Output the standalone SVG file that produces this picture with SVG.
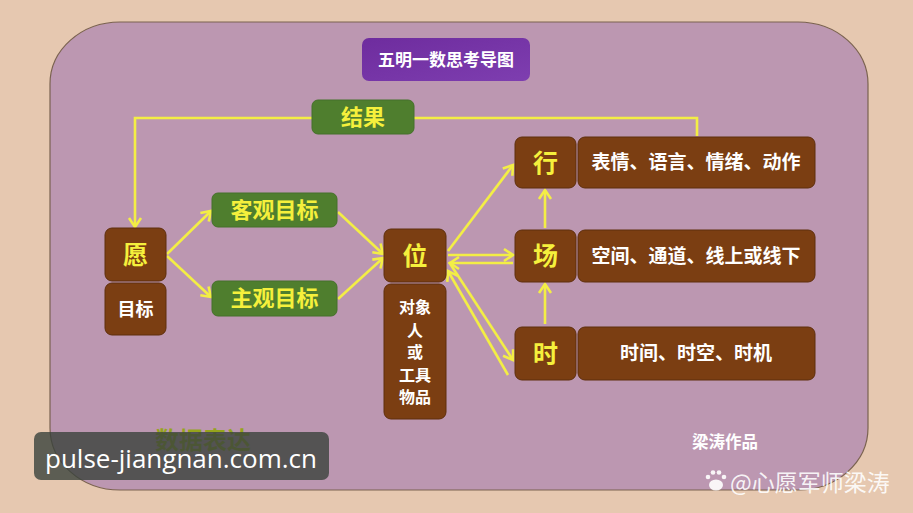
<svg xmlns="http://www.w3.org/2000/svg" width="913" height="513" viewBox="0 0 913 513">
<defs>
<linearGradient id="pg" x1="0" y1="0" x2="1" y2="1"><stop offset="0" stop-color="#6E2C9E"/><stop offset="1" stop-color="#7E3EB0"/></linearGradient>
<marker id="ah" markerUnits="userSpaceOnUse" markerWidth="16" markerHeight="16" refX="11" refY="7" orient="auto" viewBox="0 0 16 14">
<path d="M2,1 L11,7 L2,13" fill="none" stroke="#F3EE45" stroke-width="2.6" stroke-linejoin="miter"/>
</marker>
<style>
.bg{fill:#E6C8B0}
.panel{fill:#BC97B1;stroke:#7A6250;stroke-width:1.2}
.brown{fill:#7B3E12;stroke:#5E2E0C;stroke-width:1}
.green{fill:#4F7E2E;stroke:#44702A;stroke-width:1}
.yl{fill:#F5F03C;font-family:"Noto Sans CJK SC","Noto Sans",sans-serif;font-weight:bold;text-anchor:middle}
.wt{fill:#FFFFFF;font-family:"Noto Sans CJK SC","Noto Sans",sans-serif;font-weight:bold;text-anchor:middle}
.ln{fill:none;stroke:#F3EE45;stroke-width:2.6}
</style>
</defs>
<rect class="bg" x="0" y="0" width="913" height="513"/>
<rect class="panel" x="50" y="22" width="818" height="468" rx="70" ry="62"/>

<g id="connectors">
<polyline class="ln" points="312,118 135,118 135,227" marker-end="url(#ah)"/>
<polyline class="ln" points="414,118 697,118 697,136"/>
<line class="ln" x1="167" y1="254" x2="211" y2="211" marker-end="url(#ah)"/>
<line class="ln" x1="167" y1="256" x2="211" y2="297" marker-end="url(#ah)"/>
<line class="ln" x1="338" y1="212" x2="383" y2="254" marker-end="url(#ah)"/>
<line class="ln" x1="338" y1="299" x2="383" y2="258" marker-end="url(#ah)"/>
<line class="ln" x1="448" y1="251" x2="513" y2="165" marker-end="url(#ah)"/>
<line class="ln" x1="448" y1="255" x2="513" y2="255" marker-end="url(#ah)"/>
<line class="ln" x1="513" y1="263" x2="450" y2="263" marker-end="url(#ah)"/>
<line class="ln" x1="449" y1="262" x2="513" y2="360" marker-end="url(#ah)"/>
<line class="ln" x1="508" y1="375" x2="448" y2="271" marker-end="url(#ah)"/>
<line class="ln" x1="545" y1="228" x2="545" y2="190" marker-end="url(#ah)"/>
<line class="ln" x1="545" y1="324" x2="545" y2="284" marker-end="url(#ah)"/>
</g>

<g id="title">
<rect x="362" y="38" width="168" height="43" rx="7" fill="url(#pg)"/>
<text class="wt" x="446" y="66" font-size="17">五明一数思考导图</text>
</g>
<g id="jieguo">
<rect class="green" x="312" y="100" width="102" height="34" rx="6"/>
<text class="yl" x="363" y="125" font-size="22">结果</text>
</g>
<g id="yuan">
<rect class="brown" x="105" y="228" width="61" height="53" rx="7"/>
<text class="yl" x="135.5" y="264" font-size="25">愿</text>
</g>
<g id="mubiao">
<rect class="brown" x="105" y="283" width="61" height="52" rx="7"/>
<text class="wt" x="135.5" y="316" font-size="18">目标</text>
</g>
<g id="keguan">
<rect class="green" x="212" y="193" width="125" height="34" rx="6"/>
<text class="yl" x="274.5" y="218" font-size="22">客观目标</text>
</g>
<g id="zhuguan">
<rect class="green" x="212" y="281" width="125" height="35" rx="6"/>
<text class="yl" x="274.5" y="306" font-size="22">主观目标</text>
</g>
<g id="wei">
<rect class="brown" x="384" y="229" width="62" height="53" rx="7"/>
<text class="yl" x="415" y="265" font-size="25">位</text>
</g>
<g id="duixiang">
<rect class="brown" x="384" y="284" width="62" height="135" rx="7"/>
<text class="wt" x="415" y="313" font-size="16">对象</text>
<text class="wt" x="415" y="335.5" font-size="16">人</text>
<text class="wt" x="415" y="358" font-size="16">或</text>
<text class="wt" x="415" y="380.5" font-size="16">工具</text>
<text class="wt" x="415" y="403" font-size="16">物品</text>
</g>
<g id="xing">
<rect class="brown" x="515" y="137" width="61" height="51" rx="7"/>
<text class="yl" x="545.5" y="172" font-size="25">行</text>
</g>
<g id="xing-detail">
<rect class="brown" x="578" y="137" width="237" height="51" rx="7"/>
<text class="wt" x="696" y="169" font-size="19">表情、语言、情绪、动作</text>
</g>
<g id="chang">
<rect class="brown" x="515" y="230" width="61" height="52" rx="7"/>
<text class="yl" x="545.5" y="265" font-size="25">场</text>
</g>
<g id="chang-detail">
<rect class="brown" x="578" y="230" width="237" height="52" rx="7"/>
<text class="wt" x="696" y="263" font-size="19">空间、通道、线上或线下</text>
</g>
<g id="shi">
<rect class="brown" x="515" y="327" width="61" height="53" rx="7"/>
<text class="yl" x="545.5" y="363" font-size="25">时</text>
</g>
<g id="shi-detail">
<rect class="brown" x="578" y="327" width="237" height="53" rx="7"/>
<text class="wt" x="696" y="360" font-size="19">时间、时空、时机</text>
</g>

<text x="203" y="449" font-size="24" font-weight="bold" fill="#96A41C" text-anchor="middle" font-family="Noto Sans CJK SC,sans-serif">数据表达</text>
<text x="725" y="448" font-size="16.5" font-weight="bold" fill="#FFFFFF" text-anchor="middle" font-family="Noto Sans CJK SC,sans-serif">梁涛作品</text>

<g id="watermark">
<rect x="34" y="432" width="295" height="48" rx="7" fill="#3A423C" fill-opacity="0.8"/>
<text x="181" y="468" font-size="26" fill="#FFFFFF" text-anchor="middle" font-family="Open Sans,Noto Sans,sans-serif">pulse-jiangnan.com.cn</text>
</g>
<g id="baidu" fill="#FFFFFF" fill-opacity="0.9">
<circle cx="708" cy="477" r="2.3"/><circle cx="713" cy="472.5" r="2.3"/><circle cx="719" cy="472.5" r="2.3"/><circle cx="724" cy="477" r="2.3"/>
<ellipse cx="716" cy="485" rx="7" ry="5.5"/>
<text x="810" y="491" font-size="23" text-anchor="middle" font-family="Noto Sans CJK SC,sans-serif">@心愿军师梁涛</text>
</g>
</svg>
